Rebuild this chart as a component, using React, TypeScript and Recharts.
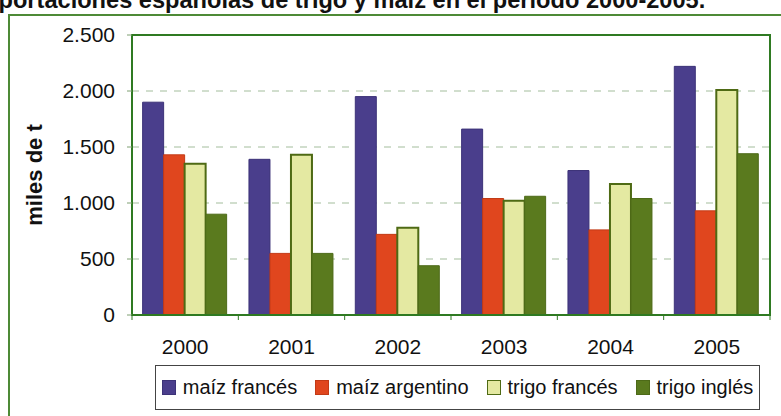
import { Bar, BarChart, CartesianGrid, ReferenceArea, XAxis, YAxis } from "recharts";

const years = ["2000", "2001", "2002", "2003", "2004", "2005"];
const maizFrances = [1900, 1390, 1950, 1660, 1290, 2220];
const maizArgentino = [1430, 550, 720, 1040, 760, 930];
const trigoFrances = [1350, 1430, 780, 1020, 1170, 2010];
const trigoIngles = [900, 550, 440, 1060, 1040, 1440];
const yTicks = [0, 500, 1000, 1500, 2000, 2500];

const series = [
  { key: "maizFrances", name: "maíz francés", fill: "#4a3e8c", stroke: "#3c3278" },
  { key: "maizArgentino", name: "maíz argentino", fill: "#e0461e", stroke: "#c23a16" },
  { key: "trigoFrances", name: "trigo francés", fill: "#e4e9a2", stroke: "#4e6a14" },
  { key: "trigoIngles", name: "trigo inglés", fill: "#5a7a1e", stroke: "#4d6a18" },
];

const data = years.map((year, i) => ({
  year,
  maizFrances: maizFrances[i],
  maizArgentino: maizArgentino[i],
  trigoFrances: trigoFrances[i],
  trigoIngles: trigoIngles[i],
}));

const FONT = '"Liberation Sans", Arial, sans-serif';
const AXIS_GREEN = "#2f7a22";
const FRAME_GREEN = "#4e8a36";
const CHART_W = 781;
const CHART_H = 416;
const MARGIN = { top: 35, right: 11, left: 0, bottom: 41 };
const Y_AXIS_W = 132;
const PLOT_W = CHART_W - MARGIN.left - MARGIN.right - Y_AXIS_W;

const formatThousands = (v: number) =>
  String(v).replace(/\B(?=(\d{3})+(?!\d))/g, ".");

function YearTick(props: any) {
  const { x, y, payload, index, visibleTicksCount } = props;
  const half =
    typeof payload.offset === "number" && payload.offset > 0
      ? payload.offset
      : PLOT_W / years.length / 2;
  return (
    <g>
      <line x1={x - half} x2={x - half} y1={y} y2={y + 5} stroke={AXIS_GREEN} />
      {index === visibleTicksCount - 1 && (
        <line x1={x + half} x2={x + half} y1={y} y2={y + 5} stroke={AXIS_GREEN} />
      )}
      <text
        x={x}
        y={y + 24}
        dy="0.71em"
        textAnchor="middle"
        fontSize={21}
        fontFamily={FONT}
        fill="#111"
      >
        {payload.value}
      </text>
    </g>
  );
}

export default function App() {
  return (
    <div
      style={{
        position: "fixed",
        left: 0,
        top: 0,
        width: CHART_W,
        height: CHART_H,
        overflow: "hidden",
        background: "#fff",
        fontFamily: FONT,
      }}
    >
      <div
        style={{
          position: "absolute",
          left: -29,
          top: -11,
          whiteSpace: "nowrap",
          fontSize: 23.6,
          lineHeight: "23px",
          fontWeight: "bold",
          color: "#111",
        }}
      >
        Importaciones españolas de trigo y maíz en el período 2000-2005.
      </div>
      <div
        style={{
          position: "absolute",
          left: 8,
          top: 14,
          width: 800,
          height: 500,
          border: `2px solid ${FRAME_GREEN}`,
        }}
      />
      <div style={{ position: "absolute", left: 0, top: 0 }}>
        <BarChart
          width={CHART_W}
          height={CHART_H}
          data={data}
          margin={MARGIN}
          barCategoryGap="10%"
          barGap={0}
        >
          <CartesianGrid
            vertical={false}
            stroke="#a3bd9c"
            strokeDasharray="7 7"
          />
          <XAxis
            dataKey="year"
            height={60}
            tickLine={false}
            tickSize={0}
            tickMargin={0}
            axisLine={{ stroke: AXIS_GREEN, strokeWidth: 2 }}
            tick={<YearTick />}
            interval={0}
          />
          <YAxis
            width={Y_AXIS_W}
            domain={[0, 2500]}
            ticks={yTicks}
            tickFormatter={formatThousands}
            tickSize={5}
            tickMargin={12}
            tickLine={{ stroke: "#7f9f72" }}
            axisLine={{ stroke: AXIS_GREEN, strokeWidth: 2 }}
            tick={{ fontSize: 21, fill: "#111", fontFamily: FONT }}
            label={{
              value: "miles de t",
              angle: -90,
              position: "insideLeft",
              offset: 34,
              style: {
                textAnchor: "middle",
                fontWeight: "bold",
                fontSize: 22,
                fill: "#111",
                fontFamily: FONT,
              },
            }}
          />
          {series.map((s) => (
            <Bar
              key={s.key}
              dataKey={s.key}
              name={s.name}
              fill={s.fill}
              stroke={s.stroke}
              strokeWidth={s.key === "trigoFrances" ? 2 : 1}
              isAnimationActive={false}
            />
          ))}
          <ReferenceArea
            y1={0}
            y2={2500}
            fill="none"
            fillOpacity={0}
            stroke={AXIS_GREEN}
            strokeWidth={2}
          />
        </BarChart>
      </div>
      <div
        style={{
          position: "absolute",
          left: 155,
          top: 365,
          width: 605,
          height: 45,
          boxSizing: "border-box",
          border: "1.5px solid #444",
          display: "flex",
          alignItems: "center",
          justifyContent: "center",
          gap: 18,
          fontSize: 20,
          color: "#111",
        }}
      >
        {series.map((s) => (
          <div key={s.key} style={{ display: "flex", alignItems: "center", gap: 7 }}>
            <span
              style={{
                display: "inline-block",
                width: 14,
                height: 15,
                background: s.fill,
                border: `1px solid ${s.stroke}`,
                boxSizing: "border-box",
              }}
            />
            <span>{s.name}</span>
          </div>
        ))}
      </div>
    </div>
  );
}
